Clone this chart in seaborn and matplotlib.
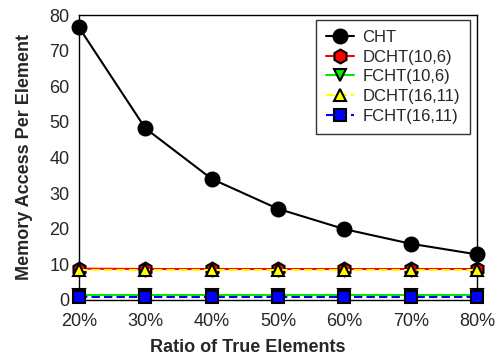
import matplotlib
matplotlib.use("Agg")
import matplotlib.pyplot as plt
import seaborn as sns
import pandas as pd

ratios = [20, 30, 40, 50, 60, 70, 80]
tick_labels = ["20%", "30%", "40%", "50%", "60%", "70%", "80%"]
cht = [76.5, 48.2, 34.0, 25.6, 19.9, 15.8, 12.8]
dcht_10_6 = [8.8, 8.7, 8.7, 8.7, 8.7, 8.7, 8.7]
fcht_10_6 = [1.3, 1.3, 1.3, 1.3, 1.3, 1.3, 1.3]
dcht_16_11 = [8.5, 8.5, 8.5, 8.5, 8.5, 8.5, 8.5]
fcht_16_11 = [0.8, 0.8, 0.8, 0.8, 0.8, 0.8, 0.8]

series = [
    ("CHT", cht, "black", "o", "-", 10, "black"),
    ("DCHT(10,6)", dcht_10_6, "red", "h", "-", 10, "red"),
    ("FCHT(10,6)", fcht_10_6, "#00ee00", "v", "-", 9, "#00ee00"),
    ("DCHT(16,11)", dcht_16_11, "#ffff00", "^", (0, (4, 2)), 9, "#ffff00"),
    ("FCHT(16,11)", fcht_16_11, "blue", "s", (0, (4, 2)), 8.5, "blue"),
]

sns.set_style("white")
plt.rcParams["font.family"] = ["Liberation Sans", "DejaVu Sans"]

fig = plt.figure(figsize=(4.97, 3.59), dpi=100)
ax = fig.add_axes([79 / 497, 1 - 300 / 359, (477 - 79) / 497, (300 - 15) / 359])

for name, vals, col, mk, ls, ms, fc in series:
    df = pd.DataFrame({"ratio": ratios, "value": vals})
    sns.lineplot(data=df, x="ratio", y="value", ax=ax, color=col, marker=mk,
                 linestyle=ls, linewidth=1.5, markersize=ms,
                 markerfacecolor=fc, markeredgecolor="black",
                 markeredgewidth=1.5, label=name, clip_on=False, zorder=3)

ax.set_xlim(20, 80)
ax.set_ylim(0, 80)
ax.set_xticks(ratios)
ax.set_xticklabels(tick_labels)
ax.set_yticks(range(0, 81, 10))
ax.tick_params(axis="both", labelsize=13, direction="out", length=5, width=1,
               color="black", pad=2)
ax.tick_params(axis="x", length=0, pad=9)
for s in ax.spines.values():
    s.set_color("black")
    s.set_linewidth(1)
ax.set_xlabel("Ratio of True Elements", fontsize=13, fontweight="bold")
ax.set_ylabel("Memory Access Per Element", fontsize=13, fontweight="bold")
ax.xaxis.set_label_coords((248 - 79) / (477 - 79), -(347 - 300) / (300 - 15), transform=ax.transAxes)
ax.yaxis.set_label_coords(-(79 - 25) / (477 - 79), (300 - 157) / (300 - 15), transform=ax.transAxes)
ax.xaxis.label.set_va("center")
ax.yaxis.label.set_va("center")

leg = ax.legend(loc="upper right", bbox_to_anchor=(470 / 497, 1 - 20 / 359),
                bbox_transform=fig.transFigure, fontsize=12, frameon=True,
                fancybox=False, edgecolor="black", handlelength=1.7,
                labelspacing=0.28, borderpad=0.6, handletextpad=0.5,
                borderaxespad=0)
leg.get_frame().set_linewidth(1)

fig.savefig("out.png", dpi=100)
